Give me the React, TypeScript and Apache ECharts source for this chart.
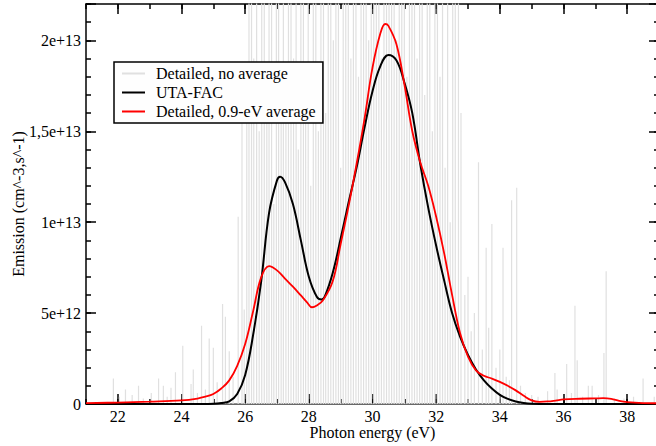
import React, { useEffect, useRef } from "react";
import * as echarts from "echarts";

// ---- data ----
const xMajorTicks = [22, 24, 26, 28, 30, 32, 34, 36, 38];
const yMajorValues = [0, 5e12, 1e13, 1.5e13, 2e13];
const yTickLabels = ["0", "5e+12", "1e+13", "1,5e+13", "2e+13"];
const seriesNames = ["Detailed, no average", "UTA-FAC", "Detailed, 0.9-eV average"];

// Detailed, no average: line positions (eV) and heights
const spikeEnergy = [
  21.86, 22.05, 22.24, 22.45, 22.65, 22.8, 23.05, 23.28, 23.43, 23.55, 23.67, 23.81,
  24.04, 24.3, 24.37, 24.5, 24.63, 24.75, 24.87, 25.0, 25.12, 25.29, 25.38, 25.5,
  25.62, 25.78, 25.9, 25.97,
  26.05, 26.12, 26.2, 26.27, 26.36, 26.44, 26.52, 26.6, 26.68, 26.75, 26.83, 26.9,
  26.98, 27.05, 27.13, 27.2, 27.28, 27.36, 27.44, 27.52, 27.6, 27.67, 27.75, 27.83,
  27.9, 27.98, 28.06, 28.14, 28.22, 28.3, 28.38, 28.46, 28.53, 28.61, 28.69, 28.77,
  28.85, 28.93, 29.0, 29.08, 29.16, 29.24, 29.32, 29.4, 29.48, 29.56, 29.64, 29.72,
  29.8, 29.88, 29.96, 30.04, 30.12, 30.2, 30.28, 30.36, 30.44, 30.52, 30.6, 30.68,
  30.76, 30.84, 30.92, 31.0, 31.08, 31.16, 31.24, 31.32, 31.4, 31.48, 31.56, 31.64,
  31.72, 31.8, 31.88, 31.96, 32.04, 32.12, 32.2, 32.28, 32.36, 32.44, 32.52, 32.6,
  32.7, 32.78, 32.9, 33.0, 33.1, 33.2, 33.33, 33.45, 33.57, 33.65, 33.75, 33.88,
  34.0, 34.1, 34.2, 34.3, 34.37, 34.53, 34.65, 34.8, 35.0, 35.2, 35.5, 35.73,
  35.8, 36.1, 36.25, 36.36, 36.43, 36.6, 36.78, 36.9, 37.1, 37.27, 37.34, 37.6,
  37.9, 38.2, 38.5, 38.85,
];
const spikeHeight = [
  1.4e12, 0.4e12, 0.8e12, 0.5e12, 1.0e12, 0.3e12, 0.6e12, 1.4e12, 1.0e12, 0.4e12, 0.9e12, 1.75e12,
  3.2e12, 1.1e12, 1.9e12, 0.6e12, 4.3e12, 0.8e12, 3.6e12, 3.1e12, 1.2e12, 5.5e12, 4.8e12, 2.9e12,
  1.5e12, 1.03e13, 1.6e13, 5.2e12,
  1.8e13, 2.6e13, 2.6e13, 1.9e13, 2.6e13, 1.5e13, 2.6e13, 2.6e13, 1.7e13, 2.6e13, 2.6e13, 1.1e13,
  2.6e13, 2.6e13, 1.6e13, 2.6e13, 1.7e13, 2.6e13, 2.6e13, 1.9e13, 2.6e13, 1.4e13, 2.6e13, 2.6e13,
  1.8e13, 2.6e13, 1.2e13, 2.6e13, 2.6e13, 1.5e13, 2.6e13, 2.6e13, 1.6e13, 2.6e13, 2.6e13, 2.0e13,
  2.6e13, 2.6e13, 1.3e13, 2.6e13, 2.6e13, 2.6e13, 1.9e13, 2.6e13, 2.6e13, 1.8e13, 2.6e13, 2.6e13,
  2.6e13, 2.0e13, 2.6e13, 2.6e13, 2.6e13, 2.6e13, 1.9e13, 2.6e13, 2.6e13, 2.6e13, 2.6e13, 2.6e13,
  2.0e13, 2.6e13, 2.6e13, 2.6e13, 1.8e13, 2.6e13, 2.6e13, 2.6e13, 1.9e13, 2.6e13, 2.6e13, 1.7e13,
  2.6e13, 2.6e13, 1.5e13, 2.6e13, 2.6e13, 1.8e13, 2.6e13, 1.3e13, 2.6e13, 1.0e13, 2.6e13, 2.6e13,
  2.6e13, 1.6e13, 6e12, 7e12, 4e12, 5e12, 1.33e13, 3e12, 8.6e12, 4.2e12, 9.9e12, 2e12,
  3e12, 8.6e12, 1.5e12, 1.3e12, 1.12e13, 1.19e13, 1.0e12, 0.6e12, 0.5e12, 0.4e12, 0.7e12, 1.7e12,
  0.8e12, 2.2e12, 0.6e12, 5.4e12, 2.4e12, 0.4e12, 1.0e12, 1.0e12, 0.5e12, 2.8e12, 7.3e12, 0.3e12,
  0.3e12, 0.4e12, 1.4e12, 0.4e12,
];

// UTA-FAC
const utaEnergy = [
  21, 22, 23, 24, 24.5, 24.75, 25.0, 25.25, 25.5, 25.75, 26.0, 26.25, 26.5, 26.75, 27.0, 27.1,
  27.25, 27.5, 27.75, 28.0, 28.25, 28.4, 28.5, 28.75, 29.0, 29.25, 29.5, 29.75, 30.0, 30.25,
  30.5, 30.75, 31.0, 31.25, 31.5, 31.75, 32.0, 32.25, 32.5, 32.75, 33.0, 33.25, 33.5, 33.75,
  34.0, 34.25, 34.5, 34.75, 35.0, 35.5, 36, 37, 38, 39,
];
const utaEmission = [
  0, 0, 0, 0, 0, 0.005e12, 0.01e12, 0.05e12, 0.15e12, 0.55e12, 1.6e12, 3.8e12, 6.7e12, 1.05e13, 1.23e13, 1.25e13,
  1.22e13, 1.1e13, 9.0e12, 7.0e12, 5.9e12, 5.75e12, 5.9e12, 7.2e12, 9.1e12, 1.11e13, 1.3e13, 1.52e13, 1.72e13, 1.86e13,
  1.92e13, 1.89e13, 1.77e13, 1.6e13, 1.32e13, 1.08e13, 8.7e12, 6.8e12, 5.0e12, 3.7e12, 2.7e12, 1.9e12, 1.3e12, 0.85e12,
  0.5e12, 0.28e12, 0.14e12, 0.06e12, 0.02e12, 0, 0, 0, 0, 0,
];

// Detailed, 0.9-eV average
const avgEnergy = [
  21, 22, 23, 24, 24.5, 24.75, 25.0, 25.25, 25.5, 25.75, 26.0, 26.25, 26.5, 26.75, 27.0,
  27.25, 27.5, 27.75, 27.95, 28.1, 28.25, 28.45, 28.75, 29.0, 29.25, 29.5, 29.75, 30.0, 30.25,
  30.4, 30.5, 30.75, 31.0, 31.25, 31.5, 31.75, 32.0, 32.25, 32.5, 32.75, 33.0, 33.25, 33.5,
  33.75, 34.0, 34.25, 34.5, 34.75, 35.0, 35.25, 35.5, 35.75, 36.0, 36.5, 37.0, 37.25, 37.5,
  37.75, 38.0, 38.5, 39,
];
const avgEmission = [
  0.05e12, 0.08e12, 0.13e12, 0.2e12, 0.3e12, 0.4e12, 0.55e12, 0.85e12, 1.3e12, 2.1e12, 3.3e12, 5.1e12, 6.95e12, 7.58e12, 7.35e12,
  6.9e12, 6.45e12, 5.97e12, 5.58e12, 5.32e12, 5.42e12, 5.72e12, 6.75e12, 8.8e12, 1.09e13, 1.32e13, 1.57e13, 1.85e13, 2.04e13,
  2.09e13, 2.08e13, 1.98e13, 1.76e13, 1.5e13, 1.33e13, 1.2e13, 1.03e13, 8.3e12, 6.0e12, 3.9e12, 2.6e12, 1.85e12, 1.55e12,
  1.4e12, 1.22e12, 1.0e12, 0.75e12, 0.45e12, 0.2e12, 0.12e12, 0.14e12, 0.19e12, 0.25e12, 0.29e12, 0.31e12, 0.32e12, 0.28e12,
  0.17e12, 0.1e12, 0.05e12, 0.04e12,
];

const FONT = "'Liberation Serif', 'Times New Roman', serif";

export default function App() {
  const ref = useRef<HTMLDivElement>(null);
  useEffect(() => {
    if (!ref.current) return;
    const chart = echarts.init(ref.current, null, { renderer: "svg" });

    const spikeData: number[][] = [];
    spikeEnergy.forEach((e, i) => {
      spikeData.push([e, 0], [e, spikeHeight[i]], [e, 0]);
    });
    const uta = utaEnergy.map((e, i) => [e, utaEmission[i]]);
    const avg = avgEnergy.map((e, i) => [e, avgEmission[i]]);

    const axisLine = { show: true, onZero: false, lineStyle: { color: "#000", width: 1.5 } };
    const noLine = { show: false, onZero: false };
    const tickStyle = { color: "#000", width: 1.5 };

    const baseX = { type: "value", min: 21, max: 39, splitLine: { show: false } };
    const baseY = { type: "value", min: 0, max: 2.2e13, splitLine: { show: false } };

    chart.setOption({
      animation: false,
      grid: { left: 86, top: 4, right: -3, bottom: 42, containLabel: false, outerBoundsMode: "none" },
      legend: {
        show: true,
        data: seriesNames,
        orient: "vertical",
        left: 114,
        top: 62,
        z: 10,
        backgroundColor: "#fefefe",
        borderColor: "#000000",
        borderWidth: 1.5,
        borderRadius: 0,
        padding: [2, 7, 2, 7],
        itemGap: 0,
        itemWidth: 23,
        itemHeight: 14,
        selectedMode: false,
        itemStyle: { color: "transparent", borderWidth: 0, opacity: 0 },
        textStyle: { fontFamily: FONT, fontSize: 16, color: "#000", lineHeight: 19, padding: [0, 0, 0, 6] },
      },
      xAxis: [
        {
          ...baseX,
          position: "bottom",
          interval: 1,
          axisLine,
          axisTick: { show: true, inside: true, length: 5, lineStyle: tickStyle },
          axisLabel: {
            margin: 4,
            fontFamily: FONT,
            fontSize: 16,
            color: "#000",
            formatter: (v: number) => {
              const r = Math.round(v);
              return Math.abs(v - r) < 1e-6 && xMajorTicks.indexOf(r) >= 0 ? String(r) : "";
            },
          },
          name: "Photon energy (eV)",
          nameLocation: "middle",
          nameGap: 20,
          nameMoveOverlap: false,
          nameTextStyle: { fontFamily: FONT, fontSize: 16, color: "#000" },
        },
        {
          ...baseX,
          position: "bottom",
          axisLine: noLine,
          axisTick: { show: true, inside: true, length: 10, lineStyle: tickStyle, customValues: xMajorTicks },
          axisLabel: { show: false },
        },
        {
          ...baseX,
          position: "top",
          interval: 1,
          axisLine,
          axisTick: { show: true, inside: true, length: 5, lineStyle: tickStyle },
          axisLabel: { show: false },
        },
        {
          ...baseX,
          position: "top",
          axisLine: noLine,
          axisTick: { show: true, inside: true, length: 10, lineStyle: tickStyle, customValues: xMajorTicks },
          axisLabel: { show: false },
        },
      ],
      yAxis: [
        {
          ...baseY,
          position: "left",
          interval: 1e12,
          axisLine,
          axisTick: { show: true, inside: true, length: 5, lineStyle: tickStyle },
          axisLabel: {
            margin: 5,
            fontFamily: FONT,
            fontSize: 16,
            color: "#000",
            formatter: (v: number) => {
              const k = Math.round(v / 5e12);
              if (k < yTickLabels.length && Math.abs(v - yMajorValues[k]) < 1e6) return yTickLabels[k];
              return "";
            },
          },
          name: "Emission (cm^-3,s^-1)",
          nameLocation: "middle",
          nameGap: 60,
          nameMoveOverlap: false,
          nameTextStyle: { fontFamily: FONT, fontSize: 16, color: "#000" },
        },
        {
          ...baseY,
          position: "left",
          interval: 5e12,
          axisLine: noLine,
          axisTick: { show: true, inside: true, length: 10, lineStyle: tickStyle },
          axisLabel: { show: false },
        },
        {
          ...baseY,
          position: "right",
          interval: 1e12,
          axisLine,
          axisTick: { show: true, inside: true, length: 5, lineStyle: tickStyle },
          axisLabel: { show: false },
        },
        {
          ...baseY,
          position: "right",
          interval: 5e12,
          axisLine: noLine,
          axisTick: { show: true, inside: true, length: 10, lineStyle: tickStyle },
          axisLabel: { show: false },
        },
      ],
      series: [
        {
          name: seriesNames[0],
          type: "line",
          xAxisIndex: 0,
          yAxisIndex: 0,
          data: spikeData,
          symbol: "none",
          silent: true,
          z: 1,
          lineStyle: { color: "#e0e0e0", width: 1.2 },
          itemStyle: { color: "#dcdcdc" },
        },
        {
          name: seriesNames[1],
          type: "line",
          xAxisIndex: 0,
          yAxisIndex: 0,
          data: uta,
          symbol: "none",
          smooth: 0.4,
          z: 3,
          lineStyle: { color: "#000", width: 2 },
          itemStyle: { color: "#000" },
        },
        {
          name: seriesNames[2],
          type: "line",
          xAxisIndex: 0,
          yAxisIndex: 0,
          data: avg,
          symbol: "none",
          smooth: 0.4,
          z: 4,
          lineStyle: { color: "#ff0000", width: 1.8 },
          itemStyle: { color: "#ff0000" },
        },
      ],
    });
    return () => chart.dispose();
  }, []);
  return <div ref={ref} style={{ position: "absolute", left: 0, top: 0, width: 656, height: 446 }} />;
}
